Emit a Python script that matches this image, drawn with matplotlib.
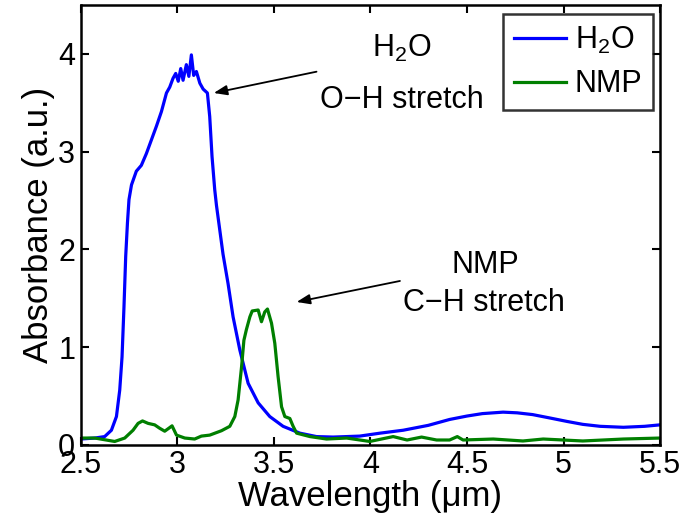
import matplotlib
matplotlib.use("Agg")
import matplotlib.pyplot as plt

plt.rcParams['font.family'] = ['Liberation Sans', 'DejaVu Sans']
plt.rcParams['mathtext.fontset'] = 'custom'
plt.rcParams['mathtext.rm'] = 'Liberation Sans'
plt.rcParams['mathtext.it'] = 'Liberation Sans'

# Water absorbance spectrum (wavelength in micrometres)
h2o_wl = [2.50, 2.573, 2.624, 2.659, 2.685, 2.702, 2.714, 2.724, 2.733, 2.742, 2.75,
          2.763, 2.788, 2.814, 2.84, 2.866, 2.892, 2.918, 2.944, 2.961, 2.978,
          2.992, 3.005, 3.018, 3.03, 3.047, 3.06, 3.073, 3.085, 3.099, 3.117,
          3.134, 3.156, 3.168, 3.18, 3.194, 3.203, 3.22, 3.237, 3.263, 3.289,
          3.324, 3.367, 3.419, 3.479, 3.548, 3.635, 3.721, 3.807, 3.945, 4.05,
          4.17, 4.30, 4.41, 4.50, 4.58, 4.687, 4.76, 4.84, 4.93, 5.018, 5.10,
          5.19, 5.31, 5.42, 5.50]
h2o_abs = [0.06, 0.07, 0.085, 0.15, 0.29, 0.56, 0.90, 1.41, 1.93, 2.27, 2.51,
           2.66, 2.80, 2.86, 2.98, 3.12, 3.26, 3.41, 3.60, 3.66, 3.75,
           3.80, 3.72, 3.85, 3.73, 3.89, 3.77, 3.99, 3.78, 3.82, 3.70,
           3.64, 3.60, 3.36, 2.95, 2.61, 2.45, 2.20, 1.95, 1.65, 1.31,
           0.97, 0.63, 0.43, 0.29, 0.19, 0.12, 0.085, 0.08, 0.09, 0.12,
           0.15, 0.20, 0.26, 0.295, 0.32, 0.335, 0.328, 0.31, 0.275, 0.24, 0.21,
           0.19, 0.18, 0.19, 0.205]

# NMP absorbance spectrum
nmp_wl = [2.50, 2.573, 2.676, 2.728, 2.771, 2.797, 2.82, 2.849, 2.883, 2.909, 2.935,
          2.956, 2.973, 2.996, 3.039, 3.09, 3.125, 3.168, 3.229, 3.272, 3.298,
          3.315, 3.333, 3.345, 3.358, 3.376, 3.388, 3.419, 3.436, 3.453, 3.467,
          3.488, 3.505, 3.522, 3.54, 3.557, 3.583, 3.60, 3.618, 3.687, 3.773,
          3.877, 3.997, 4.118, 4.19, 4.265, 4.343, 4.41, 4.45, 4.48, 4.636,
          4.79, 4.895, 5.10, 5.31, 5.50]
nmp_abs = [0.07, 0.07, 0.035, 0.07, 0.15, 0.22, 0.245, 0.22, 0.205, 0.17, 0.14,
           0.17, 0.195, 0.10, 0.07, 0.06, 0.09, 0.10, 0.145, 0.19, 0.29,
           0.46, 0.80, 1.07, 1.18, 1.31, 1.37, 1.38, 1.26, 1.36, 1.39,
           1.245, 1.04, 0.70, 0.39, 0.29, 0.27, 0.19, 0.12, 0.085, 0.06,
           0.07, 0.035, 0.085, 0.05, 0.08, 0.05, 0.05, 0.085, 0.05, 0.06,
           0.04, 0.06, 0.04, 0.06, 0.07]

x_ticks = [2.5, 3, 3.5, 4, 4.5, 5, 5.5]
x_tick_labels = ['2.5', '3', '3.5', '4', '4.5', '5', '5.5']
y_ticks = [0, 1, 2, 3, 4]

fig = plt.figure(figsize=(6.84, 5.29), dpi=100)
ax = fig.add_axes([0.118, 0.159, 0.847, 0.8315])

ax.plot(h2o_wl, h2o_abs, color='#0000ff', lw=2.3, label='H$_2$O')
ax.plot(nmp_wl, nmp_abs, color='#007f00', lw=2.3, label='NMP')

ax.set_xlim(2.5, 5.5)
ax.set_ylim(0, 4.5)
ax.set_xticks(x_ticks)
ax.set_xticklabels(x_tick_labels)
ax.set_yticks(y_ticks)
ax.tick_params(direction='in', length=6, width=1.5, labelsize=22,
               top=True, right=True, pad=4)
for s in ax.spines.values():
    s.set_linewidth(1.8)

ax.set_xlabel('Wavelength (\u03bcm)', fontsize=25, labelpad=0)
ax.set_ylabel('Absorbance (a.u.)', fontsize=25, labelpad=2)

leg = ax.legend(loc='upper right', fontsize=22, frameon=True, fancybox=False,
                handlelength=1.7, handletextpad=0.3, borderpad=0.35,
                labelspacing=0.45, borderaxespad=0,
                bbox_to_anchor=(0.988, 0.980))
leg.get_frame().set_edgecolor('black')
leg.get_frame().set_linewidth(1.8)

arrow_kw = dict(arrowstyle='-|>,head_length=0.8,head_width=0.3',
                color='black', lw=1.3, shrinkA=0, shrinkB=0)
ax.annotate('', xy=(3.189, 3.60), xytext=(3.721, 3.818), arrowprops=arrow_kw)
ax.annotate('', xy=(3.618, 1.462), xytext=(4.153, 1.677), arrowprops=arrow_kw)

ax.text(4.163, 3.97, 'H$_2$O', fontsize=22, ha='center', va='baseline')
ax.text(4.163, 3.443, 'O\u2212H stretch', fontsize=22, ha='center', va='baseline')
ax.text(4.593, 1.756, 'NMP', fontsize=22, ha='center', va='baseline')
ax.text(4.588, 1.370, 'C\u2212H stretch', fontsize=22, ha='center', va='baseline')

fig.savefig('out.png', dpi=100)
